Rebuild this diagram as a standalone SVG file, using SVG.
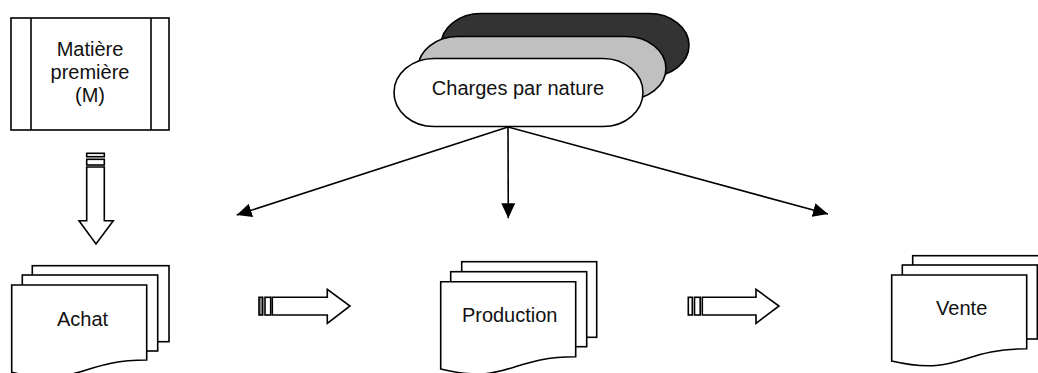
<svg xmlns="http://www.w3.org/2000/svg" width="1038" height="373" viewBox="0 0 1038 373">
<style>
.s{fill:#fff;stroke:#000;stroke-width:1.6;stroke-linejoin:miter}
.t{font-family:"Liberation Sans",Arial,sans-serif;font-size:20px;fill:#111;text-anchor:middle}
.c{stroke:#000;stroke-width:1.6;fill:none}
</style>
<defs>
<marker id="ah" markerWidth="16" markerHeight="14" refX="15" refY="7" orient="auto" markerUnits="userSpaceOnUse">
<path d="M0,0 L15,7 L0,14 Z" fill="#000"/>
</marker>
</defs>

<g id="matiere">
<rect class="s" x="11" y="18" width="158" height="112"/>
<line class="c" x1="31" y1="18" x2="31" y2="130"/>
<line class="c" x1="151" y1="18" x2="151" y2="130"/>
<text class="t" x="90" y="56">Matière</text>
<text class="t" x="90" y="79">première</text>
<text class="t" x="90" y="102">(M)</text>
</g>

<g id="charges">
<path d="M481,13.5 H649 A40,31.75 0 0 1 649,77 H481 A40,31.75 0 0 1 481,13.5 Z" fill="#333" stroke="#000" stroke-width="1.6"/>
<path d="M458,36.5 H626 A40,31.75 0 0 1 626,100 H458 A40,31.75 0 0 1 458,36.5 Z" fill="#c0c0c0" stroke="#000" stroke-width="1.6"/>
<path class="s" d="M434,58.5 H603 A40,34 0 0 1 603,126.5 H434 A40,34 0 0 1 434,58.5 Z"/>
<text class="t" x="518" y="95">Charges par nature</text>
</g>

<g id="achat">
<rect class="s" x="32.3" y="265.7" width="136.7" height="76"/>
<rect class="s" x="22.3" y="275" width="135.4" height="76"/>
<path class="s" d="M11.7,285 H146.7 V360 C79.2,360 79.2,388.3 11.7,372.3 Z"/>
<text class="t" x="82.5" y="326">Achat</text>
</g>

<g id="production">
<rect class="s" x="461.7" y="261.7" width="135" height="75.6"/>
<rect class="s" x="450.7" y="271.7" width="136" height="75"/>
<path class="s" d="M440.7,281.7 H575.7 V356.7 C508.2,356.7 508.2,385.3 440.7,369 Z"/>
<text class="t" x="509.7" y="321.7">Production</text>
</g>

<g id="vente">
<rect class="s" x="912.7" y="255.7" width="135" height="74"/>
<rect class="s" x="902.3" y="265" width="135" height="74"/>
<path class="s" d="M891.7,275 H1026.7 V348.8 C959.2,348.8 959.2,376.8 891.7,361 Z"/>
<text class="t" x="961.7" y="315">Vente</text>
</g>

<g id="arrow-down">
<rect class="s" x="86.7" y="153.3" width="17.6" height="3.4" fill="#888"/>
<rect class="s" x="86.7" y="159.3" width="17.6" height="5.7"/>
<path class="s" d="M86.7,167 H104.3 V220.7 H113.3 L96,244 L79,220.7 H86.7 Z"/>
</g>

<g id="arrow-right-1">
<rect class="s" x="259" y="297.3" width="3.7" height="17.7" style="fill:#888"/>
<rect class="s" x="265" y="297.3" width="5.7" height="17.7"/>
<path class="s" d="M272.3,297.3 H327.3 V289.3 L350,306 L327.3,323.3 V315 H272.3 Z"/>
</g>

<g id="arrow-right-2">
<rect class="s" x="688.3" y="297.3" width="4" height="17.7"/>
<rect class="s" x="694.5" y="297.3" width="5.7" height="17.7"/>
<path class="s" d="M702.3,297.3 H756 V289.3 L779,306 L756,323.3 V315 H702.3 Z"/>
</g>

<g id="connectors">
<line class="c" x1="508" y1="127" x2="236.7" y2="215" marker-end="url(#ah)"/>
<line class="c" x1="508" y1="127" x2="508.3" y2="218.3" marker-end="url(#ah)"/>
<line class="c" x1="508" y1="127" x2="828" y2="214" marker-end="url(#ah)"/>
</g>
</svg>
